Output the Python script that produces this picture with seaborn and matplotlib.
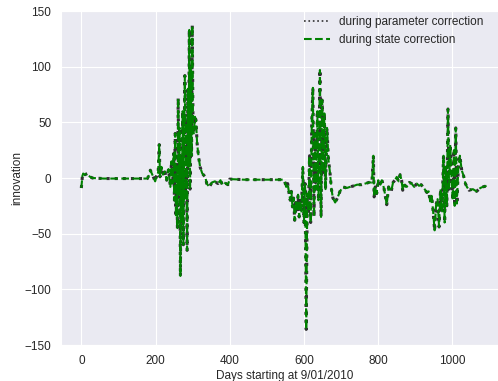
import numpy as np
import pandas as pd
import matplotlib
matplotlib.use("Agg")
import matplotlib.pyplot as plt
import seaborn as sns

# Innovation (day since 9/01/2010, value)
days = [0, 3, 5, 10, 16, 20, 24, 30, 60, 100, 140, 178,
        183, 186, 190, 194, 199, 203, 207, 210, 212, 216, 220, 225, 230, 235,
        240, 243, 246, 249, 251, 253, 255, 257, 259, 261, 263, 265, 267, 269,
        271, 273, 275, 277, 279, 281, 283, 285, 287, 289, 291, 293, 295, 297,
        299, 301, 303, 306, 309, 312, 316, 320, 326, 334, 338, 345, 352, 360,
        368, 375, 380, 385, 395, 400, 440, 480, 520, 544,
        548, 552, 556, 560, 563, 566, 569, 572, 575, 578, 581, 584, 587, 590,
        593, 595, 597, 600, 603, 606, 609, 612, 615, 618, 621, 624, 627, 630,
        633, 636, 639, 643, 646, 649, 652, 655, 658, 662, 666, 670, 674, 678,
        684, 690, 697, 705, 715, 724, 735, 743, 755, 765, 775, 783,
        787, 789, 792, 796, 800, 806, 810, 816, 823, 828, 835, 840, 845, 850,
        855, 859, 863, 866, 870, 877, 884, 890, 897, 904, 910, 916, 920, 925,
        931, 936, 940, 944, 948, 952, 956, 960, 964, 968, 972, 976, 979, 982,
        985, 988, 991, 994, 997, 1001, 1004, 1006, 1009, 1012, 1016, 1020,
        1025, 1030, 1035, 1039, 1045, 1055, 1065, 1075, 1082, 1093]
innovation = [-9, 2, 4, 3, 4, 2, 1, 0, -0.5, -0.5, -0.5, -0.5,
              3, 7, 4, 1, -3, 2, 5, 30, 1, 10, 3, 6, -2, 8,
              -8, 15, -5, 22, -20, 40, -35, 10, -45, 72, -15, 45, -88, 20,
              -40, 60, -60, 30, 92, -20, 50, -65, 80, 10, 133, -10, 100, 20,
              137, 49, 40, 55, 52, 31, 19, 10, 4, 1, -5, -8, -4, -3,
              -5, -2, -6, -4, -6, -1, -1.5, -1.5, -1.5, -1.5,
              -3, -8, -5, -14, -20, -12, -26, -18, -38, -22, -30, -15, -35, -20,
              -31, -8, 10, -40, -5, -136, -14, -30, 20, -40, 50, 81, -35, 40,
              -10, 60, -20, 97, -35, 70, 5, 58, -10, 45, 16, 5, -10, -18,
              -22, -18, -12, -8, -9, -8, -7, -6, -6, -5, -4, -4,
              20, -17, -8, -14, -2, -6, -2, -10, -24, -8, -12, -4, -2, 1,
              -3, 3, -2, -11, -6, -8, -4, -5, -8, -5, -7, -6, -8, -10,
              -13, -12, -21, -16, -30, -47, -24, -19, -44, -10, -30, 20, -40, 10,
              -25, 62, -10, 30, 5, -20, 25, -25, 45, -23, 10, 20,
              7, 2, -5, -8, -11, -10, -12, -9, -8, -7]

x_ticks = [0, 200, 400, 600, 800, 1000]
y_ticks = [-150, -100, -50, 0, 50, 100, 150]

sns.set_style("darkgrid")
plt.rcParams['font.family'] = ['Liberation Sans', 'DejaVu Sans']

fig = plt.figure(figsize=(4.98, 3.81), dpi=100)
# axes runs a little past the right edge, as in the cropped reference
ax = fig.add_axes([61 / 498, 36 / 381, 447 / 498, 334 / 381])

sns.lineplot(x=days, y=innovation, ax=ax, color='k', linestyle=':',
             linewidth=2.2, alpha=0.8, label="during parameter correction")
sns.lineplot(x=days, y=innovation, ax=ax, color='g', linestyle='--',
             linewidth=1.5, label="during state correction")

ax.set_xlim(-54.75, 1149.75)
ax.set_ylim(-150, 150)
ax.set_xticks(x_ticks)
ax.set_yticks(y_ticks)
ax.tick_params(labelsize=8.5, colors='.15')
ax.set_xlabel("Days starting at 9/01/2010", fontsize=8.5, color='.15', labelpad=2)
ax.set_ylabel("innovation", fontsize=8.5, color='.15', labelpad=1)

leg = ax.legend(loc='upper right', bbox_to_anchor=(494 / 498, 0.985),
                bbox_transform=fig.transFigure, frameon=False, fontsize=8.5,
                handlelength=2.2)
leg.get_lines()[0].set_linewidth(1.2)

fig.savefig("out.png", dpi=100)
